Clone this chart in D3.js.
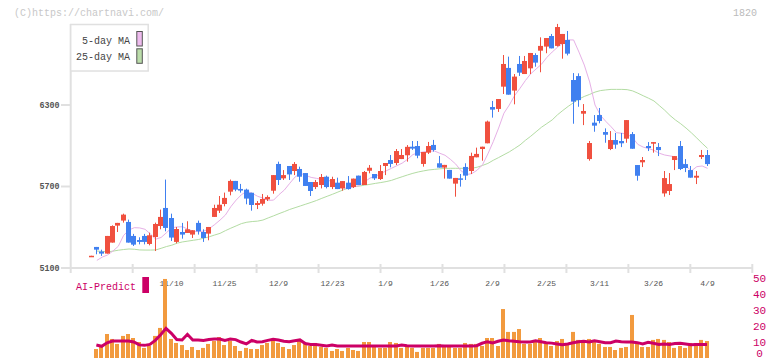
<!DOCTYPE html>
<html>
<head>
<meta charset="utf-8">
<script src="https://cdn.jsdelivr.net/npm/d3@7/dist/d3.min.js"></script>
<style>
  body { margin: 0; background: #fff; }
  svg { display: block; font-family: 'Liberation Mono', 'DejaVu Sans Mono', monospace; }
</style>
</head>
<body>
<div id="chart"></div>
<script>
const WIDTH = 772
const HEIGHT = 361
const RED = '#f0503f'
const BLUE = '#4080f0'
const MA5_COLOR = '#e6b0e6'
const MA25_COLOR = '#b3dca3'
const AXIS_COLOR = '#e0e0e0'
const CRIMSON = '#cc0066'
const ORANGE = '#f29a3e'

// daily candles, 10/17 .. 4/9
const opens = [5182,5255,5221,5206,5287,5412,5449,5439,5336,5306,5336,5277,5328,5409,5542,5468,5292,5365,5358,5346,
  5432,5365,5353,5476,5522,5571,5662,5741,5682,5677,5654,5564,5573,5605,5669,5866,5760,5851,5814,5829,
  5799,5733,5696,5711,5772,5696,5728,5686,5728,5696,5780,5711,5816,5792,5755,5851,5895,5873,5902,5930,
  5993,5998,5866,5949,6006,5871,5839,5822,5721,5760,5844,5814,5915,5976,6018,6285,6271,6435,6573,6406,
  6602,6528,6570,6668,6700,6730,6808,6735,6749,6779,6484,6513,6236,5902,6170,6226,6101,5976,6042,6035,
  6052,6086,5858,5878,5998,6015,5991,5649,5667,5895,5998,5865,5821,5765,5917,5932]
const highs = [5190,5255,5235,5336,5414,5432,5500,5456,5351,5326,5351,5360,5434,5530,5751,5500,5402,5432,5444,5378,
  5449,5385,5402,5566,5630,5655,5751,5741,5719,5684,5654,5593,5645,5635,5784,5883,5821,5851,5880,5846,
  5799,5733,5748,5792,5780,5772,5765,5740,5777,5758,5780,5814,5858,5792,5858,5873,5932,5976,5976,6005,
  6035,6035,5954,6028,6043,5925,5859,5822,5763,5792,5871,5949,5986,5993,6185,6330,6344,6668,6656,6528,
  6661,6661,6683,6681,6798,6793,6823,6897,6823,6845,6535,6533,6307,6035,6226,6278,6128,6108,6094,6094,
  6189,6101,5858,5917,6027,6027,6020,5814,5799,5924,6035,5902,5851,5814,5969,5969]
const lows = [5182,5201,5189,5206,5287,5365,5434,5287,5262,5274,5274,5267,5225,5385,5370,5299,5282,5316,5358,5321,
  5346,5292,5304,5476,5505,5554,5635,5665,5655,5569,5522,5534,5559,5593,5647,5711,5748,5748,5784,5735,
  5704,5630,5681,5686,5686,5681,5681,5669,5677,5689,5711,5711,5797,5748,5748,5784,5841,5858,5902,5883,
  5969,5908,5846,5939,5957,5839,5758,5758,5625,5699,5748,5792,5915,5890,6018,6207,6249,6381,6376,6305,
  6514,6528,6528,6582,6541,6681,6717,6730,6641,6665,6162,6287,6152,5890,6103,6165,6022,5968,5978,5990,
  6022,5978,5743,5843,5961,5949,5924,5625,5637,5821,5821,5806,5765,5718,5902,5851]
const closes = [5190,5235,5206,5336,5409,5432,5493,5287,5272,5292,5292,5341,5424,5476,5395,5324,5387,5346,5385,5378,
  5370,5321,5402,5542,5566,5616,5741,5677,5670,5611,5564,5578,5608,5623,5784,5748,5784,5789,5866,5772,
  5704,5667,5733,5770,5696,5755,5681,5740,5681,5758,5711,5807,5838,5760,5814,5873,5866,5961,5932,5992,
  5979,5927,5954,5998,5969,5839,5859,5758,5763,5751,5780,5925,5940,5993,6178,6266,6344,6602,6376,6509,
  6538,6624,6683,6612,6735,6793,6717,6874,6823,6678,6325,6336,6256,6020,6148,6182,6081,6042,6008,6018,
  6189,5978,5779,5895,5983,6027,5968,5762,5718,5924,5829,5836,5765,5779,5932,5865]

// moving averages as drawn
const ma5 = [null,5156,5180,5196,5225,5260,5340,5380,5397,5395,5385,5350,5312,5325,5360,5397,5402,5404,5385,5372,
  5367,5372,5390,5420,5453,5490,5551,5600,5640,5665,5650,5628,5615,5598,5600,5640,5674,5723,5770,5797,
  5782,5767,5760,5752,5748,5735,5711,5690,5686,5698,5706,5735,5762,5775,5795,5815,5834,5853,5872,5900,
  5935,5948,5955,5960,5962,5945,5930,5900,5865,5815,5788,5795,5820,5860,5940,6030,6130,6240,6300,6370,
  6423,6480,6530,6565,6600,6650,6690,6725,6755,6779,6779,6690,6594,6470,6300,6225,6180,6140,6096,6092,
  6085,6060,6010,5990,5980,5966,5945,5932,5925,5918,5880,5850,5815,5846,5851,5834]
const ma25 = [null,5225,5222,5219,5224,5231,5236,5240,5238,5233,5232,5232,5233,5245,5258,5268,5283,5292,5298,5304,
  5310,5320,5330,5343,5355,5375,5393,5410,5427,5437,5442,5445,5453,5469,5484,5500,5515,5531,5544,5557,
  5570,5583,5597,5613,5628,5643,5659,5675,5690,5700,5703,5710,5716,5723,5729,5736,5745,5759,5772,5785,
  5797,5807,5815,5822,5826,5830,5833,5834,5834,5834,5834,5834,5842,5855,5870,5893,5913,5934,5955,5980,
  6006,6040,6070,6103,6136,6163,6190,6228,6260,6290,6317,6344,6363,6378,6395,6406,6411,6415,6415,6415,
  6413,6404,6387,6368,6350,6330,6296,6262,6223,6190,6162,6130,6095,6057,6018,5981]

// AI-Predict panel
const volumes = [null,5.6,7.5,15,11.9,8.8,13.8,15,12.5,10,6.3,7.5,13.8,18.8,49.4,11.9,9.4,8.1,5,6.9,
  5,6.3,8.8,10.6,13.1,8.1,10.6,7.5,4.4,6.3,5.6,5.6,8.1,9.4,11.3,9.4,6.9,5.6,8.1,11.3,
  9.4,7.5,9.4,6.9,6.3,4.4,5.6,4.4,6.3,5,4.4,10,10,7.5,6.3,6.3,10,9.4,6.3,7.5,
  6.3,3.8,6.3,6.3,6.3,8.8,6.9,6.9,6.3,6.3,9.4,8.8,8.8,7.5,12.5,12.5,7.5,30.6,16.3,16.3,
  18.1,8.8,8.8,10.6,12.5,8.8,7.5,10.6,11.9,8.8,16.3,11.3,10,11.9,10.6,8.8,6.9,6.9,5,6.3,
  6.9,26.9,8.8,6.9,6.9,11.3,11.9,11.3,10,6.3,7.5,6.3,9.4,9.4,11.3,10.6]
const predict = [null,8.1,7.3,9.5,10.6,10.6,10.6,10.6,10,8.2,7.9,8.5,11,14.5,18.5,15.4,11.5,11.3,14.8,11.3,
  11.3,11,11.5,11.9,11.9,11,11.8,11.5,10,8.8,11,10,10.2,11,11.7,11.3,10.5,10.2,10.8,11.3,
  9,8.5,8.5,8,7.5,8.1,7.5,7.5,7.5,7.5,7.5,7.5,7.5,7.5,7.5,7.5,7.5,7.5,8.1,7.7,
  7.5,7.5,7.5,7.5,7.5,7.6,7.5,7.5,7.5,7.5,7.5,7.5,7.7,9.2,10.2,9.4,10.5,11.3,10.8,10.5,
  10.2,10,10,10.8,10.2,9.6,9.3,8.8,8.3,8.8,9.5,10.2,10.4,10,10.8,10.2,9.6,9.6,10.6,10.2,
  10,10,9.6,8.8,9.8,9.2,8.5,8.8,8.5,9,9.2,8.8,8.3,8.5,8.5,8.5]

const dateLabels = ['11/10','11/25','12/9','12/23','1/9','1/26','2/9','2/25','3/11','3/26','4/9']
const dateIndex = [15,25,35,45,55,65,75,85,95,105,115]
const priceTicks = [5100,5700,6300]
const volTicks = [0,10,20,30,40,50]

const svg = d3.select('#chart').append('svg')
  .attr('width', WIDTH).attr('height', HEIGHT)

const x = d3.scaleLinear().domain([0, closes.length - 1]).range([91.5, 707.5])
const y = d3.scaleLinear().domain([5100, 6300]).range([268, 105])
const yVol = d3.scaleLinear().domain([0, 50]).range([358, 278])
const grid = d3.scaleLinear().domain([0, 11]).range([70.7, 752.3])
const px = i => Math.round(x(i))

// header texts
svg.append('text').attr('x', 14).attr('y', 15.5)
  .attr('font-size', 10).attr('fill', '#c8c8c8').text('(C)https://chartnavi.com/')
svg.append('text').attr('x', 757).attr('y', 15.5).attr('text-anchor', 'end')
  .attr('font-size', 10).attr('fill', '#bbbbbb').text('1820')

// axes
svg.append('line').attr('x1', grid(0)).attr('x2', grid(0)).attr('y1', 24).attr('y2', 273)
  .attr('stroke', AXIS_COLOR).attr('stroke-width', 2)
svg.append('line').attr('x1', grid(0)).attr('x2', grid(11)).attr('y1', 268).attr('y2', 268)
  .attr('stroke', AXIS_COLOR).attr('stroke-width', 2)

svg.append('g').selectAll('line').data(d3.range(1, 12)).join('line')
  .attr('x1', d => grid(d)).attr('x2', d => grid(d))
  .attr('y1', 264).attr('y2', 273)
  .attr('stroke', AXIS_COLOR).attr('stroke-width', 2)

var priceAxis = svg.append('g')
priceAxis.selectAll('line').data(priceTicks).join('line')
  .attr('x1', 61).attr('x2', grid(0)).attr('y1', d => y(d)).attr('y2', d => y(d))
  .attr('stroke', AXIS_COLOR).attr('stroke-width', 2)
priceAxis.selectAll('text').data(priceTicks).join('text')
  .attr('x', 59.5).attr('y', d => y(d)).attr('dy', '0.35em')
  .attr('text-anchor', 'end').attr('font-size', 8.4).attr('font-weight', 'bold')
  .attr('fill', '#555').text(d => d)

// date labels
svg.append('g').selectAll('text').data(dateLabels).join('text')
  .attr('x', (d, i) => px(dateIndex[i]) - 0.5).attr('y', 285.5)
  .attr('text-anchor', 'middle').attr('font-size', 8).attr('fill', '#555')
  .text(d => d)

// moving averages
var maLine = d3.line().defined(d => d != null).x((d, i) => x(i)).y(d => y(d))
svg.append('path').datum(ma25).attr('d', maLine)
  .attr('fill', 'none').attr('stroke', MA25_COLOR).attr('stroke-width', 1)
svg.append('path').datum(ma5).attr('d', maLine)
  .attr('fill', 'none').attr('stroke', MA5_COLOR).attr('stroke-width', 1)

// candles
var candles = svg.append('g').selectAll('g').data(closes).join('g')
candles.append('line')
  .attr('x1', (d, i) => px(i) - 0.5).attr('x2', (d, i) => px(i) - 0.5)
  .attr('y1', (d, i) => y(highs[i])).attr('y2', (d, i) => y(lows[i]))
  .attr('stroke', (d, i) => d >= opens[i] ? RED : BLUE)
candles.append('rect')
  .attr('x', (d, i) => px(i) - 3).attr('width', 5)
  .attr('y', (d, i) => y(Math.max(d, opens[i])))
  .attr('height', (d, i) => Math.max(1.5, Math.abs(y(d) - y(opens[i]))))
  .attr('fill', (d, i) => d >= opens[i] ? RED : BLUE)

// legend
var legend = svg.append('g')
legend.append('rect').attr('x', 70.7).attr('y', 24.5).attr('width', 77.5).attr('height', 46.5)
  .attr('fill', '#fff').attr('stroke', AXIS_COLOR).attr('stroke-width', 1.5)
legend.append('text').attr('x', 130).attr('y', 43.5).attr('text-anchor', 'end')
  .attr('font-size', 10).attr('fill', '#444').text('5-day MA')
legend.append('text').attr('x', 130).attr('y', 60).attr('text-anchor', 'end')
  .attr('font-size', 10).attr('fill', '#444').text('25-day MA')
legend.append('rect').attr('x', 136.8).attr('y', 31.5).attr('width', 5.5).attr('height', 14.5)
  .attr('fill', '#eebbee').attr('stroke', '#555')
legend.append('rect').attr('x', 136.8).attr('y', 48.8).attr('width', 5.5).attr('height', 14.5)
  .attr('fill', '#bbddaa').attr('stroke', '#555')

// AI-Predict panel
svg.append('text').attr('x', 76).attr('y', 290)
  .attr('font-size', 10).attr('fill', CRIMSON).text('AI-Predict')
svg.append('rect').attr('x', 142.3).attr('y', 277).attr('width', 6.7).attr('height', 16)
  .attr('fill', CRIMSON)

var volData = volumes.map((v, i) => ({v: v, i: i})).filter(d => d.v != null)
svg.append('g').selectAll('rect').data(volData).join('rect')
  .attr('x', d => px(d.i) - 3)
  .attr('width', 4)
  .attr('y', d => yVol(d.v))
  .attr('height', d => yVol(0) - yVol(d.v))
  .attr('fill', ORANGE)

var predictLine = d3.line().defined(d => d != null).x((d, i) => x(i) - 0.5).y(d => yVol(d))
svg.append('path').datum(predict).attr('d', predictLine)
  .attr('fill', 'none').attr('stroke', CRIMSON).attr('stroke-width', 3)

// right axis of the panel, last label kept inside the frame
svg.append('g').selectAll('text').data(volTicks).join('text')
  .attr('x', 759.5).attr('y', d => Math.min(yVol(d) + 3.8, 357))
  .attr('text-anchor', 'middle').attr('font-size', 11).attr('fill', CRIMSON)
  .text(d => d)
</script>
</body>
</html>
